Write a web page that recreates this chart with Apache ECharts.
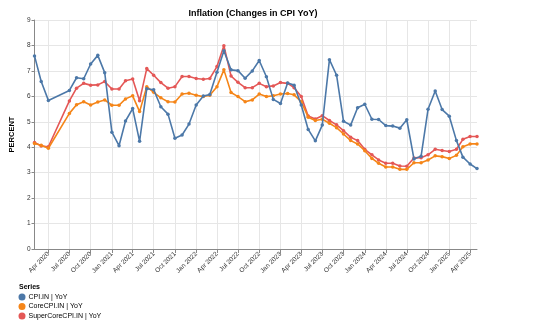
<!DOCTYPE html>
<html>
<head>
<meta charset="utf-8">
<script src="https://cdn.jsdelivr.net/npm/echarts@6/dist/echarts.min.js"></script>
<style>html,body{margin:0;padding:0;background:#fff}#c{width:537px;height:331px}</style>
</head>
<body>
<div id="c"></div>
<script>
const dates = [
 '2020-02','2020-03','2020-04','2020-07','2020-08','2020-09','2020-10','2020-11','2020-12',
 '2021-01','2021-02','2021-03','2021-04','2021-05','2021-06','2021-07','2021-08','2021-09','2021-10','2021-11','2021-12',
 '2022-01','2022-02','2022-03','2022-04','2022-05','2022-06','2022-07','2022-08','2022-09','2022-10','2022-11','2022-12',
 '2023-01','2023-02','2023-03','2023-04','2023-05','2023-06','2023-07','2023-08','2023-09','2023-10','2023-11','2023-12',
 '2024-01','2024-02','2024-03','2024-04','2024-05','2024-06','2024-07','2024-08','2024-09','2024-10','2024-11','2024-12',
 '2025-01','2025-02','2025-03','2025-04','2025-05'
];
const cpi = [
 7.59,6.58,5.84,6.23,6.73,6.69,7.27,7.61,6.93,
 4.59,4.06,5.03,5.52,4.23,6.30,6.26,5.59,5.30,4.35,4.48,4.91,
 5.66,6.01,6.07,6.95,7.79,7.04,7.01,6.71,7.00,7.41,6.77,5.88,
 5.72,6.52,6.44,5.66,4.70,4.25,4.87,7.44,6.83,5.02,4.87,5.55,
 5.69,5.10,5.09,4.85,4.83,4.75,5.08,3.54,3.65,5.49,6.21,5.48,
 5.22,4.26,3.61,3.34,3.16
];
const coreCpi = [
 4.15,4.08,3.96,5.33,5.67,5.79,5.66,5.78,5.86,
 5.65,5.65,5.90,6.02,5.40,6.38,6.16,5.94,5.79,5.78,6.09,6.12,
 6.04,5.99,6.04,6.38,7.04,6.15,5.99,5.79,5.86,6.09,5.99,6.02,
 6.09,6.11,6.06,5.79,5.18,5.05,5.10,4.94,4.77,4.52,4.26,4.13,
 3.86,3.56,3.37,3.22,3.22,3.13,3.13,3.39,3.39,3.50,3.66,3.63,
 3.56,3.68,4.02,4.13,4.13
];
const superCoreCpi = [
 4.19,4.05,4.02,5.82,6.32,6.51,6.44,6.45,6.58,
 6.29,6.29,6.61,6.68,5.83,7.09,6.83,6.54,6.32,6.38,6.78,6.78,
 6.70,6.67,6.70,7.17,7.99,6.80,6.55,6.34,6.34,6.51,6.38,6.41,
 6.54,6.51,6.34,5.99,5.23,5.11,5.24,5.05,4.88,4.65,4.39,4.26,
 3.92,3.70,3.50,3.37,3.37,3.26,3.25,3.58,3.59,3.70,3.92,3.87,
 3.83,3.92,4.31,4.42,4.42
];
const seriesNames = ['CPI.IN | YoY','CoreCPI.IN | YoY','SuperCoreCPI.IN | YoY'];
const colors = ['#4c78a8','#f58518','#e45756'];
const tickMonths = [
 '2020-04','2020-07','2020-10','2021-01','2021-04','2021-07','2021-10',
 '2022-01','2022-04','2022-07','2022-10','2023-01','2023-04','2023-07','2023-10',
 '2024-01','2024-04','2024-07','2024-10','2025-01','2025-04'
];
const monthNames = ['Jan','Feb','Mar','Apr','May','Jun','Jul','Aug','Sep','Oct','Nov','Dec'];

function ts(s){const p=s.split('-');return Date.UTC(+p[0],+p[1]-1,1);}
const tickVals = tickMonths.map(ts);
function fmt(v){const d=new Date(v);return monthNames[d.getUTCMonth()]+' '+d.getUTCFullYear();}

const allSeries=[cpi,coreCpi,superCoreCpi].map((vals,i)=>({
  name: seriesNames[i],
  type:'line',
  data: dates.map((d,j)=>[ts(d),vals[j]]),
  lineStyle:{width:1.6,color:colors[i]},
  itemStyle:{color:colors[i]},
  symbol:'circle',
  symbolSize:3.5,
  showSymbol:true,
  z: 3-i
}));

const chart = echarts.init(document.getElementById('c'),null,{renderer:'canvas'});
chart.setOption({
  animation:false,
  title:[{
    text:'Inflation (Changes in CPI YoY)',
    left:248, top:4, textAlign:'center',
    textStyle:{fontSize:9,fontWeight:'bold',color:'#000',fontFamily:'Liberation Sans, Arial, sans-serif'}
  },{
    text:'Series', left:19, top:284, padding:[0,0,0,0],
    textStyle:{fontSize:7,fontWeight:'bold',color:'#000',fontFamily:'Liberation Sans, Arial, sans-serif'}
  }],
  legend:{
    orient:'vertical', left:18.5, top:293.5, padding:[0,0,0,0],
    icon:'circle', itemWidth:7, itemHeight:7, itemGap:2.5,
    textStyle:{fontSize:7,color:'#000',fontFamily:'Liberation Sans, Arial, sans-serif',padding:[0,0,0,-2]},
    data: seriesNames
  },
  grid:{left:19,right:60,top:20,bottom:82,containLabel:false},
  xAxis:{
    type:'value',
    min: ts(dates[0]), max: ts(dates[dates.length-1]),
    axisLine:{show:true,onZero:false,lineStyle:{color:'#888',width:1}},
    axisTick:{show:true,length:4,lineStyle:{color:'#888'},customValues:tickVals},
    axisLabel:{customValues:tickVals,formatter:fmt,rotate:45,fontSize:6.5,color:'#333',margin:4,
      fontFamily:'Liberation Sans, Arial, sans-serif', hideOverlap:false},
    splitLine:{show:true,lineStyle:{color:'#e6e6e6',width:1}}
  },
  yAxis:{
    type:'value', min:0, max:9, interval:1,
    name:'PERCENT', nameLocation:'middle', nameGap:13, nameRotate:90,
    nameTextStyle:{fontSize:7.5,fontWeight:'bold',color:'#000',fontFamily:'Liberation Sans, Arial, sans-serif'},
    axisLine:{show:true,lineStyle:{color:'#888'}},
    axisTick:{show:true,length:3,lineStyle:{color:'#888'}},
    axisLabel:{fontSize:6.5,color:'#333',margin:4,fontFamily:'Liberation Sans, Arial, sans-serif'},
    splitLine:{show:true,lineStyle:{color:'#e6e6e6',width:1}}
  },
  series: allSeries
});
</script>
</body>
</html>
